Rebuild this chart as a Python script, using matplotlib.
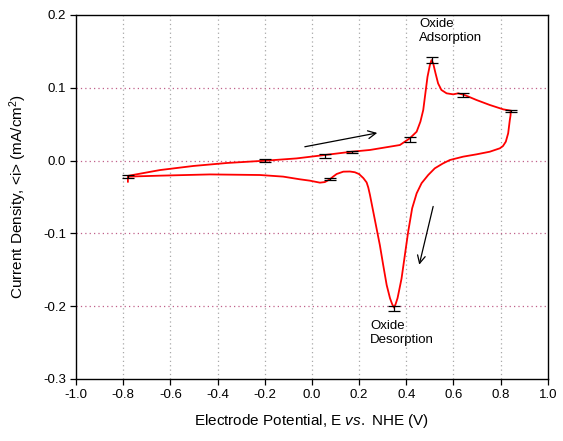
import matplotlib
matplotlib.use("Agg")
import matplotlib.pyplot as plt

# forward (anodic) scan
fwd_E = [-0.78, -0.78, -0.644, -0.503, -0.361, -0.192, -0.065, 0.055, 0.168, 0.246,
         0.300, 0.373, 0.415, 0.444, 0.460, 0.472, 0.481, 0.490, 0.500, 0.507, 0.514,
         0.524, 0.535, 0.549, 0.571, 0.599, 0.620, 0.648, 0.698, 0.754, 0.811, 0.843]
fwd_i = [-0.029, -0.021, -0.013, -0.0074, -0.0033, 0.0, 0.003, 0.0077, 0.0122, 0.0146,
         0.0175, 0.0214, 0.0306, 0.0397, 0.0535, 0.0695, 0.0924, 0.115, 0.131, 0.138, 0.1337,
         0.120, 0.106, 0.097, 0.0924, 0.091, 0.0924, 0.090, 0.0832, 0.0764, 0.0704, 0.0686]

# reverse (cathodic) scan
rev_E = [0.843, 0.842, 0.839, 0.832, 0.822, 0.810, 0.797, 0.754, 0.698, 0.641,
         0.585, 0.555, 0.521, 0.493, 0.465, 0.444, 0.425, 0.408, 0.394, 0.380,
         0.370, 0.363, 0.355, 0.348, 0.340, 0.331, 0.317, 0.302, 0.288, 0.274,
         0.260, 0.246, 0.239, 0.232, 0.218, 0.200, 0.182, 0.161, 0.133, 0.105,
         0.090, 0.076, 0.055, 0.034, -0.008, -0.051, -0.122, -0.220, -0.432, -0.644,
         -0.78]
rev_i = [0.068, 0.062, 0.0558, 0.0375, 0.026, 0.020, 0.0169, 0.0122, 0.0086, 0.0054,
         0.0008, -0.004, -0.0106, -0.0198, -0.031, -0.045, -0.0655, -0.098, -0.130, -0.162,
         -0.178, -0.189, -0.197, -0.202, -0.197, -0.189, -0.171, -0.143, -0.116, -0.093,
         -0.070, -0.047, -0.037, -0.030, -0.024, -0.0185, -0.016, -0.015, -0.0152, -0.0184,
         -0.022, -0.0257, -0.0295, -0.0303, -0.0276, -0.0257, -0.022, -0.0198, -0.019, -0.0207,
         -0.022]

# error bars
err_E = [-0.78, -0.20, 0.055, 0.17, 0.415, 0.507, 0.641, 0.842, 0.076, 0.348]
err_i = [-0.022, 0.0, 0.0065, 0.012, 0.029, 0.138, 0.090, 0.068, -0.0255, -0.203]
err_d = [0.002, 0.0025, 0.0025, 0.0015, 0.003, 0.0045, 0.003, 0.0015, 0.0015, 0.0035]

x_ticks = [-1.0, -0.8, -0.6, -0.4, -0.2, 0.0, 0.2, 0.4, 0.6, 0.8, 1.0]
y_ticks = [-0.3, -0.2, -0.1, 0.0, 0.1, 0.2]

plt.rcParams['font.family'] = ['Liberation Sans', 'DejaVu Sans']
plt.rcParams['mathtext.fontset'] = 'custom'
plt.rcParams['mathtext.rm'] = 'Liberation Sans'
plt.rcParams['mathtext.it'] = 'Liberation Sans:italic'

fig = plt.figure(figsize=(5.63, 4.41), dpi=100)
ax = fig.add_axes([0.135, 0.1406, 0.838, 0.8254])

for x in x_ticks[1:-1]:
    ax.axvline(x, color='#a8a8a8', linestyle=(0, (1, 2.5)), linewidth=0.9, zorder=0)
for y in y_ticks[1:-1]:
    ax.axhline(y, color='#c0608a', linestyle=(0, (1, 2.5)), linewidth=0.9, zorder=0)

ax.plot(fwd_E, fwd_i, color='red', linewidth=1.3, zorder=2, solid_joinstyle='round')
ax.plot(rev_E, rev_i, color='red', linewidth=1.3, zorder=2, solid_joinstyle='round')
ax.errorbar(err_E, err_i, yerr=err_d, fmt='none', ecolor='black', elinewidth=0.9,
            capsize=4, capthick=0.9, zorder=3)

ax.annotate('', xy=(0.277, 0.038), xytext=(-0.030, 0.019),
            arrowprops=dict(arrowstyle='->', color='black', lw=0.9, shrinkA=0, shrinkB=0,
                            mutation_scale=14))
ax.annotate('', xy=(0.455, -0.143), xytext=(0.514, -0.063),
            arrowprops=dict(arrowstyle='->', color='black', lw=0.9, shrinkA=0, shrinkB=0,
                            mutation_scale=14))

ax.text(0.455, 0.196, 'Oxide\nAdsorption', fontsize=9.5, ha='left', va='top',
        linespacing=1.25)
ax.text(0.246, -0.219, 'Oxide\nDesorption', fontsize=9.5, ha='left', va='top',
        linespacing=1.25)

ax.set_xlim(-1.0, 1.0)
ax.set_ylim(-0.3, 0.2)
ax.set_xticks(x_ticks)
ax.set_yticks(y_ticks)
ax.set_xticklabels(['%.1f' % v for v in x_ticks])
ax.set_yticklabels(['%.1f' % v for v in y_ticks])
ax.tick_params(direction='out', length=4, width=0.9, labelsize=9.5, pad=3)

ax.set_xlabel('Electrode Potential, E $\\mathit{vs.}$ NHE (V)', fontsize=11, labelpad=8)
ax.set_ylabel('Current Density, <i> (mA/cm$^2$)', fontsize=11, labelpad=10)

for s in ax.spines.values():
    s.set_linewidth(1.0)

fig.savefig('out.png', dpi=100)
